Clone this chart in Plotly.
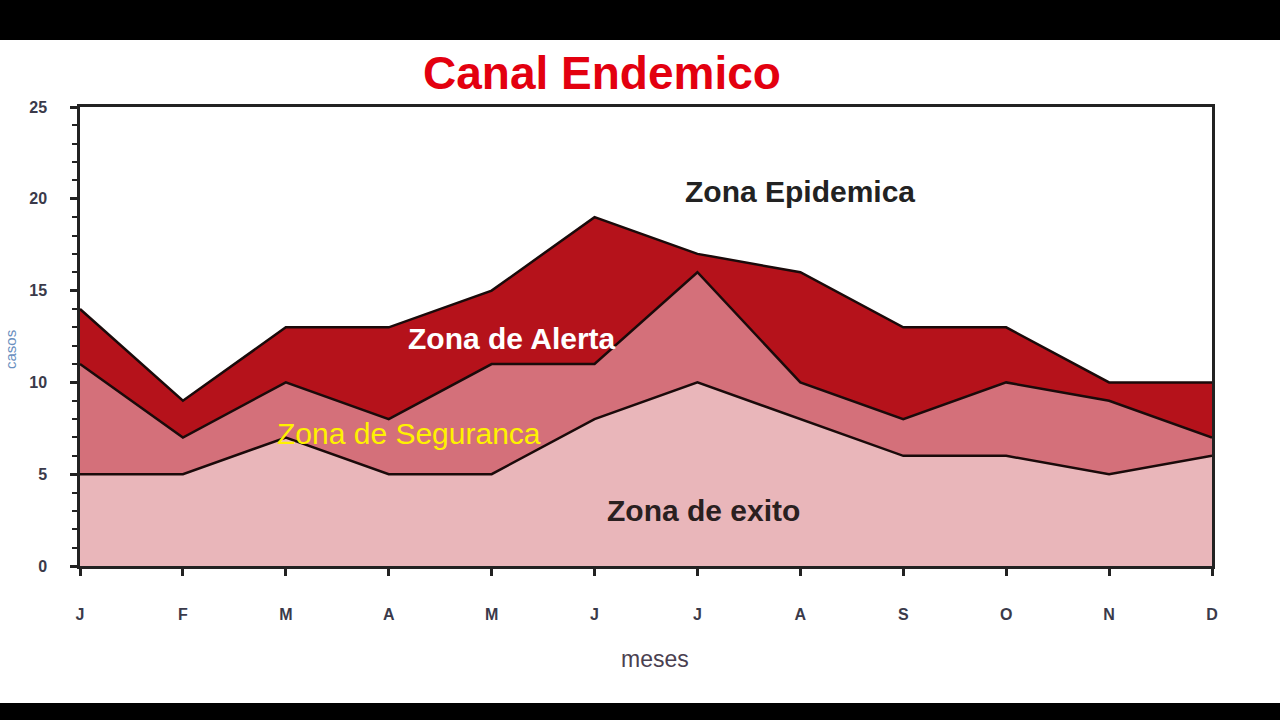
import plotly.graph_objects as go

months = ["J", "F", "M", "A", "M", "J", "J", "A", "S", "O", "N", "D"]
zona_exito = [5, 5, 7, 5, 5, 8, 10, 8, 6, 6, 5, 6]
zona_seguranca = [11, 7, 10, 8, 11, 11, 16, 10, 8, 10, 9, 7]
zona_alerta = [14, 9, 13, 13, 15, 19, 17, 16, 13, 13, 10, 10]
y_ticks = [0, 5, 10, 15, 20, 25]

x = list(range(len(months)))

fig = go.Figure()
line = dict(color="#1a0a0a", width=2.5)
fig.add_trace(go.Scatter(x=x, y=zona_exito, mode="lines", line=line,
                         fill="tozeroy", fillcolor="#E9B6BA", showlegend=False))
fig.add_trace(go.Scatter(x=x, y=zona_seguranca, mode="lines", line=line,
                         fill="tonexty", fillcolor="#D4707A", showlegend=False))
fig.add_trace(go.Scatter(x=x, y=zona_alerta, mode="lines", line=line,
                         fill="tonexty", fillcolor="#B5121B", showlegend=False))

L, R, T, B = 80, 68, 107, 154
H = 720 - T - B

def py(p):
    return (720 - B - p) / H

def px(p):
    return (p - L) / (1280 - L - R)

shapes = [
    dict(type="rect", xref="paper", yref="paper", x0=px(0), x1=px(1280),
         y0=py(40), y1=py(-5), fillcolor="black", line=dict(width=0), layer="above"),
    dict(type="rect", xref="paper", yref="paper", x0=px(0), x1=px(1280),
         y0=py(725), y1=py(703), fillcolor="black", line=dict(width=0), layer="above"),
]

FONT = "Liberation Sans, Arial"
annotations = [
    dict(text="<b>Canal Endemico</b>", xref="paper", yref="paper", x=px(602), y=py(73),
         showarrow=False, font=dict(family=FONT, size=46, color="#E3000F"),
         xanchor="center", yanchor="middle"),
    dict(text="<b>Zona Epidemica</b>", x=7.0, y=20.4, showarrow=False,
         font=dict(family=FONT, size=30, color="#222222")),
    dict(text="<b>Zona de Alerta</b>", x=4.2, y=12.4, showarrow=False,
         font=dict(family=FONT, size=30, color="white")),
    dict(text="Zona de Seguranca", x=3.2, y=7.2, showarrow=False,
         font=dict(family=FONT, size=30, color="#FFF200")),
    dict(text="<b>Zona de exito</b>", x=6.06, y=3.0, showarrow=False,
         font=dict(family=FONT, size=30, color="#2a2020")),
    dict(text="meses", xref="paper", yref="paper", x=px(655), y=py(659),
         xanchor="center", yanchor="middle",
         showarrow=False, font=dict(family=FONT, size=23, color="#4a4050")),
    dict(text="casos", xref="paper", yref="paper", x=px(10), y=py(350), textangle=-90,
         xanchor="center", yanchor="middle",
         showarrow=False, font=dict(family=FONT, size=15, color="#6a8fc0")),
]

tickfont = dict(family=FONT, size=16, color="#3a3a4a", weight="bold")

fig.update_layout(
    width=1280, height=720,
    margin=dict(l=L, r=R, t=T, b=B),
    paper_bgcolor="white", plot_bgcolor="white",
    shapes=shapes, annotations=annotations,
    xaxis=dict(range=[0, 11], tickvals=x, ticktext=months, showgrid=False, zeroline=False,
               showline=True, linecolor="#222222", linewidth=2.5, mirror=True,
               ticks="outside", ticklen=7, tickwidth=2.5, tickcolor="#222222",
               tickfont=tickfont, ticklabelstandoff=25),
    yaxis=dict(range=[0, 25], tickvals=y_ticks, showgrid=False, zeroline=False,
               showline=True, linecolor="#222222", linewidth=2.5, mirror=True,
               ticks="outside", ticklen=7, tickwidth=2.5, tickcolor="#222222",
               minor=dict(dtick=1, ticks="outside", ticklen=5, tickwidth=2, tickcolor="#222222"),
               tickfont=tickfont, ticklabelstandoff=20),
)

fig.write_html("out.html")
